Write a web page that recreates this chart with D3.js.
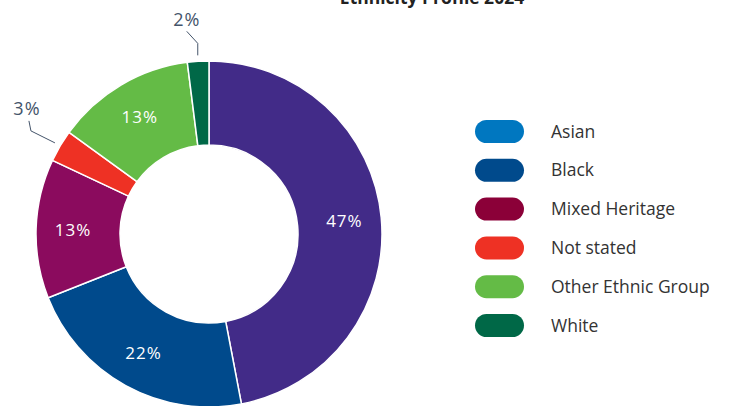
<!DOCTYPE html>
<html>
<head>
<meta charset="utf-8">
<script src="https://d3js.org/d3.v7.min.js"></script>
<style>
  body { margin: 0; background: #fff; }
  svg { display: block; font-family: "Open Sans", "Noto Sans", sans-serif; }
</style>
</head>
<body>
<svg id="chart" width="729" height="406"></svg>
<script>
// data
var categories = ["Asian", "Black", "Mixed Heritage", "Not stated", "Other Ethnic Group", "White"];
var values = [47, 22, 13, 3, 13, 2];
var sliceColors = ["#422b88", "#004a8c", "#8b0b5e", "#ee3124", "#64bb46", "#006847"];
var legendColors = ["#0077c0", "#004a8c", "#8b0038", "#ee3124", "#64bb46", "#006847"];
var outsideLabel = [false, false, false, true, false, true];

var svg = d3.select("#chart");
var cx = 209, cy = 234;
var outerR = 173, innerR = 89;

// title (cut off at the top like the original)
svg.append("text")
  .attr("x", 432).attr("y", 4)
  .attr("text-anchor", "middle")
  .style("font-size", "17.5px").style("font-weight", "bold")
  .style("fill", "#222")
  .text("Ethnicity Profile 2024");

var pie = d3.pie().sort(null).value(function(d) { return d; });
var arcs = pie(values);
var arc = d3.arc().innerRadius(innerR).outerRadius(outerR);
var labelArc = d3.arc().innerRadius(136).outerRadius(136);

var g = svg.append("g").attr("transform", "translate(" + cx + "," + cy + ")");

g.selectAll("path")
  .data(arcs)
  .enter()
  .append("path")
  .attr("d", arc)
  .attr("fill", function(d, i) { return sliceColors[i]; })
  .attr("stroke", "#fff")
  .attr("stroke-width", 1.5);

// inside labels
g.selectAll("text.inside")
  .data(arcs.filter(function(d, i) { return !outsideLabel[i]; }))
  .enter()
  .append("text")
  .attr("class", "inside")
  .attr("transform", function(d) { return "translate(" + labelArc.centroid(d) + ")"; })
  .attr("text-anchor", "middle")
  .attr("dy", "0.35em")
  .style("fill", "#fff")
  .style("font-size", "17px")
  .style("letter-spacing", "1px")
  .text(function(d) { return d.value + "%"; });

// outside labels with leader lines
var outside = arcs.filter(function(d, i) { return outsideLabel[i]; });
outside.forEach(function(d) {
  var mid = (d.startAngle + d.endAngle) / 2;
  var p0 = [Math.sin(mid) * (outerR + 6), -Math.cos(mid) * (outerR + 6)];
  var bend, lab;
  if (Math.sin(mid) < -0.3) {
    // left side label
    bend = [p0[0] - 24, p0[1] - 12];
    lab = [bend[0] - 2, bend[1] - 10];
    var pts = [p0, bend, [lab[0], lab[1]]];
    g.append("polyline")
      .attr("points", pts.map(function(p) { return p.join(","); }).join(" "))
      .attr("fill", "none").attr("stroke", "#44546a").attr("stroke-width", 1);
    g.append("text")
      .attr("x", lab[0] - 2).attr("y", lab[1] - 6)
      .attr("text-anchor", "middle")
      .style("fill", "#44546a").style("font-size", "18px")
      .style("letter-spacing", "1px")
      .text(d.value + "%");
  } else {
    // top label
    bend = [p0[0], p0[1] - 12];
    lab = [bend[0] - 11, bend[1] - 12];
    var pts2 = [p0, bend, lab];
    g.append("polyline")
      .attr("points", pts2.map(function(p) { return p.join(","); }).join(" "))
      .attr("fill", "none").attr("stroke", "#44546a").attr("stroke-width", 1);
    g.append("text")
      .attr("x", lab[0]).attr("y", lab[1] - 5)
      .attr("text-anchor", "middle")
      .style("fill", "#44546a").style("font-size", "18px")
      .style("letter-spacing", "1px")
      .text(d.value + "%");
  }
});

// legend
var legend = svg.append("g").attr("transform", "translate(475,120)");
var row = legend.selectAll("g")
  .data(categories)
  .enter()
  .append("g")
  .attr("transform", function(d, i) { return "translate(0," + (i * 38.8) + ")"; });

row.append("rect")
  .attr("width", 49).attr("height", 23)
  .attr("rx", 11.5).attr("ry", 11.5)
  .attr("fill", function(d, i) { return legendColors[i]; });

row.append("text")
  .attr("x", 76).attr("y", 11.5)
  .attr("dy", "0.35em")
  .style("fill", "#333")
  .style("font-size", "17.5px")
  .text(function(d) { return d; });
</script>
</body>
</html>
